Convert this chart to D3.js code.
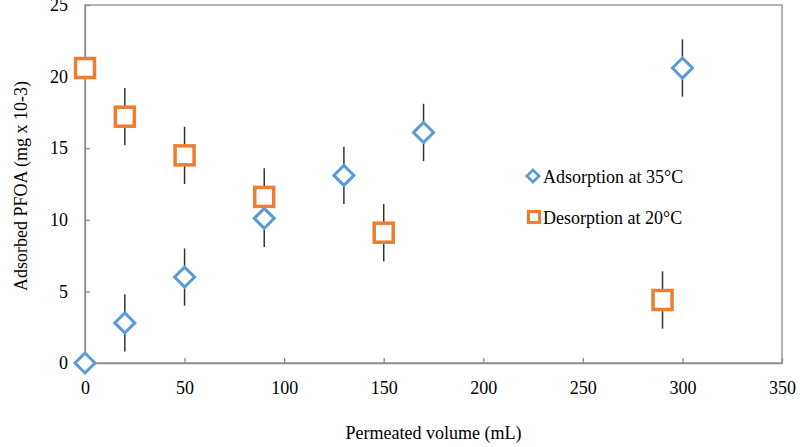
<!DOCTYPE html>
<html><head><meta charset="utf-8">
<script src="https://cdn.jsdelivr.net/npm/d3@7"></script>
<style>body{margin:0;background:#fff}svg{display:block}text{font-family:"Liberation Serif","Times New Roman",serif;fill:#000}</style>
</head><body><svg id="c" width="800" height="447"></svg>
<script>
const adsX=[0,20,50,90,130,170,300];
const adsY=[0,2.8,6.0,10.1,13.1,16.1,20.6];
const adsErr=[0,2,2,2,2,2,2];
const desX=[0,20,50,90,150,290];
const desY=[20.6,17.2,14.5,11.6,9.1,4.4];
const desErr=[0,2,2,2,2,2];
const xTicks=[0,50,100,150,200,250,300,350];
const yTicks=[0,5,10,15,20,25];
const seriesNames=["Adsorption at 35°C","Desorption at 20°C"];

const svg=d3.select("#c");
const L=85,R=782,T=5,B=363;
const x=d3.scaleLinear().domain([0,350]).range([L,R]);
const y=d3.scaleLinear().domain([0,25]).range([B,T]);
const axisCol="#8c8c8c";
svg.append("rect").attr("x",L).attr("y",T).attr("width",R-L).attr("height",B-T).attr("fill","none").attr("stroke",axisCol).attr("stroke-width",1.3);
const xa=svg.append("g").attr("transform",`translate(0,${B})`).call(d3.axisBottom(x).tickValues(xTicks).tickSizeInner(-5).tickSizeOuter(0).tickPadding(18));
const ya=svg.append("g").attr("transform",`translate(${L},0)`).call(d3.axisLeft(y).tickValues(yTicks).tickSizeInner(-5).tickSizeOuter(0).tickPadding(17));
[xa,ya].forEach(a=>{a.select(".domain").attr("stroke",axisCol).attr("stroke-width",1.3);a.selectAll(".tick line").attr("stroke",axisCol).attr("stroke-width",1.3);a.selectAll("text").style("font-family",'"Liberation Serif",serif').style("font-size","18px").attr("fill","#000");});
svg.append("text").attr("x",(L+R)/2).attr("y",439).attr("text-anchor","middle").style("font-size","18px").text("Permeated volume (mL)");
svg.append("text").attr("transform",`translate(27,${186}) rotate(-90)`).attr("text-anchor","middle").style("font-size","18px").text("Adsorbed PFOA (mg x 10-3)");

const ads=adsX.map((v,i)=>({x:v,y:adsY[i],e:adsErr[i]}));
const des=desX.map((v,i)=>({x:v,y:desY[i],e:desErr[i]}));
const eb=svg.append("g");
[...ads,...des].filter(d=>d.e>0).forEach(d=>{
  eb.append("line").attr("x1",x(d.x)).attr("x2",x(d.x)).attr("y1",y(d.y-d.e)).attr("y2",y(d.y+d.e)).attr("stroke","#333").attr("stroke-width",1.5);
});
const blue="#5b9bd5",orange="#ed7d31";
const dia=s=>`M0,${-s}L${s},0L0,${s}L${-s},0Z`;
svg.append("g").selectAll("path").data(ads).join("path").attr("d",dia(10)).attr("transform",d=>`translate(${x(d.x)},${y(d.y)})`).attr("fill","#fff").attr("stroke",blue).attr("stroke-width",3);
svg.append("g").selectAll("rect").data(des).join("rect").attr("x",d=>x(d.x)-9.5).attr("y",d=>y(d.y)-9.5).attr("width",19).attr("height",19).attr("fill","#fff").attr("stroke",orange).attr("stroke-width",3.5);

// legend
svg.append("path").attr("d",dia(6)).attr("transform","translate(533,176)").attr("fill","#fff").attr("stroke",blue).attr("stroke-width",2.8);
svg.append("rect").attr("x",528.5).attr("y",211.5).attr("width",11).attr("height",11).attr("fill","#fff").attr("stroke",orange).attr("stroke-width",3.2);
svg.append("text").attr("x",543).attr("y",183).style("font-size","18px").text(seriesNames[0]);
svg.append("text").attr("x",543).attr("y",224).style("font-size","18px").text(seriesNames[1]);
</script></body></html>
